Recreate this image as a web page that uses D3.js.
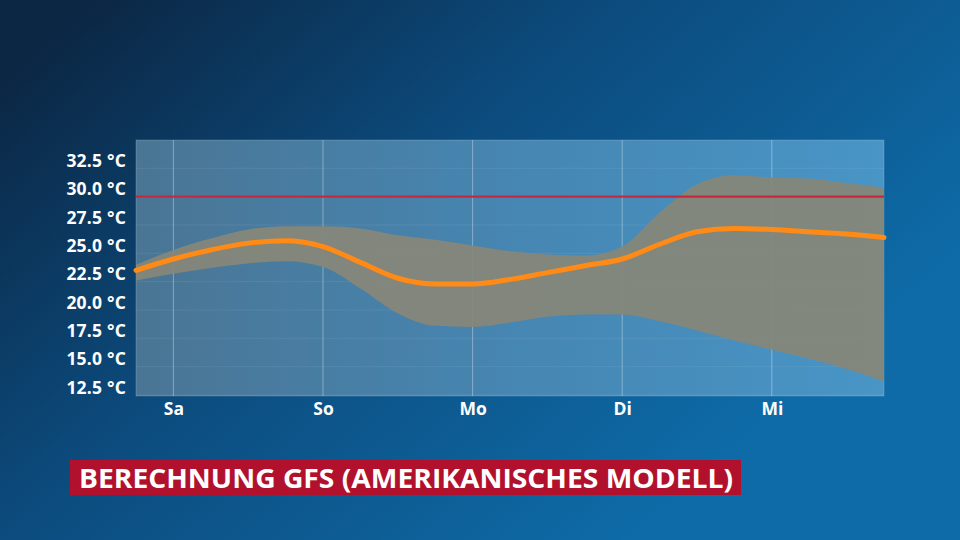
<!DOCTYPE html>
<html><head><meta charset="utf-8">
<script src="https://cdn.jsdelivr.net/npm/d3@7"></script>
<style>html,body{margin:0;padding:0;background:#0c3a63;}svg{display:block;}</style>
</head><body>
<svg id="chart" width="960" height="540"></svg>
<script>
// ---- data ----
const dayLabels = ["Sa", "So", "Mo", "Di", "Mi"];
const dayPos = [0, 1, 2, 3, 4];
const times = [-0.25, 0, 0.25, 0.5, 0.75, 1, 1.25, 1.5, 1.75, 2, 2.25, 2.5, 2.75, 3, 3.25, 3.5, 3.75, 4, 4.25, 4.5, 4.75];
const meanTemp = [23.5, 24.5, 25.3, 25.9, 26.1, 25.6, 24.2, 22.8, 22.3, 22.3, 22.7, 23.3, 23.9, 24.5, 25.8, 26.9, 27.2, 27.1, 26.9, 26.7, 26.4];
const upperTemp = [24.0, 25.3, 26.3, 27.1, 27.4, 27.4, 27.2, 26.6, 26.2, 25.7, 25.2, 24.9, 24.8, 25.6, 28.6, 31.1, 31.9, 31.7, 31.6, 31.2, 30.8];
const lowerTemp = [22.6, 23.2, 23.7, 24.1, 24.3, 23.8, 21.9, 19.7, 18.6, 18.5, 18.9, 19.4, 19.6, 19.6, 19.0, 18.2, 17.3, 16.5, 15.7, 14.8, 13.7];
const yTicks = [12.5, 15.0, 17.5, 20.0, 22.5, 25.0, 27.5, 30.0, 32.5];
const threshold = 30.0;
const title = "BERECHNUNG GFS (AMERIKANISCHES MODELL)";

// ---- layout ----
const svg = d3.select("#chart");
const W = 960, H = 540;
const plot = {x0: 136, x1: 884, y0: 140, y1: 396};

const defs = svg.append("defs");
const bg = defs.append("linearGradient").attr("id", "bg")
  .attr("x1", "0").attr("y1", "0.15").attr("x2", "0.85").attr("y2", "0.7");
bg.append("stop").attr("offset", "0").attr("stop-color", "#0b2744");
bg.append("stop").attr("offset", "0.45").attr("stop-color", "#0c4b7d");
bg.append("stop").attr("offset", "1").attr("stop-color", "#0e6ba7");
const pg = defs.append("linearGradient").attr("id", "pg")
  .attr("x1", "0").attr("y1", "0").attr("x2", "1").attr("y2", "0");
pg.append("stop").attr("offset", "0").attr("stop-color", "#4a7594");
pg.append("stop").attr("offset", "0.5").attr("stop-color", "#4686b2");
pg.append("stop").attr("offset", "1").attr("stop-color", "#4895c6");

svg.append("rect").attr("width", W).attr("height", H).attr("fill", "url(#bg)");

const x = d3.scaleLinear().domain([-0.25, 4.75]).range([plot.x0, plot.x1]);
const y = d3.scaleLinear().domain([12.5, 35]).range([395, 140]);

svg.append("rect").attr("x", plot.x0).attr("y", plot.y0)
  .attr("width", plot.x1 - plot.x0).attr("height", plot.y1 - plot.y0)
  .attr("fill", "url(#pg)").attr("stroke", "rgba(255,255,255,0.18)").attr("stroke-width", 1);

// horizontal faint grid
svg.append("g").selectAll("line").data(yTicks).join("line")
  .attr("x1", plot.x0).attr("x2", plot.x1)
  .attr("y1", d => y(d)).attr("y2", d => y(d))
  .attr("stroke", "rgba(255,255,255,0.07)").attr("stroke-width", 1);

// vertical grid
svg.append("g").selectAll("line").data(dayPos).join("line")
  .attr("x1", d => x(d)).attr("x2", d => x(d))
  .attr("y1", plot.y0).attr("y2", plot.y1)
  .attr("stroke", "rgba(255,255,255,0.35)").attr("stroke-width", 1);

const pts = times.map((t, i) => ({t, m: meanTemp[i], u: upperTemp[i], l: lowerTemp[i]}));

const area = d3.area().x(d => x(d.t)).y0(d => y(d.l)).y1(d => y(d.u)).curve(d3.curveMonotoneX);
svg.append("path").datum(pts).attr("d", area)
  .attr("fill", "#878679").attr("fill-opacity", 0.93);

// threshold line
svg.append("line").attr("x1", plot.x0).attr("x2", plot.x1)
  .attr("y1", y(threshold)).attr("y2", y(threshold))
  .attr("stroke", "#c8283e").attr("stroke-width", 2.2);

const line = d3.line().x(d => x(d.t)).y(d => y(d.m)).curve(d3.curveMonotoneX);
svg.append("path").datum(pts).attr("d", line)
  .attr("fill", "none").attr("stroke", "#ff8a16").attr("stroke-width", 5)
  .attr("stroke-linecap", "round");

// y axis labels
const yAxis = d3.axisLeft(y).tickValues(yTicks).tickSize(0).tickPadding(0)
  .tickFormat(d => d3.format(".1f")(d) + " °C");
const ya = svg.append("g").attr("transform", `translate(126,0)`).call(yAxis);
ya.select(".domain").remove();
ya.selectAll("text").attr("fill", "#ffffff").attr("dy", "-2")
  .style("font-family", "'Open Sans', sans-serif").style("font-weight", "700")
  .style("font-size", "17.5px").style("letter-spacing", "0.2px").attr("text-anchor", "end");

// x axis labels
const xAxis = d3.axisBottom(x).tickValues(dayPos).tickSize(0).tickPadding(0)
  .tickFormat((d, i) => dayLabels[i]);
const xa = svg.append("g").attr("transform", `translate(0,415)`).call(xAxis);
xa.select(".domain").remove();
xa.selectAll("text").attr("fill", "#ffffff").attr("dy", "0").attr("y", 0)
  .style("font-family", "'Open Sans', sans-serif").style("font-weight", "700")
  .style("font-size", "17.5px");

// title banner
svg.append("rect").attr("x", 70).attr("y", 460).attr("width", 671).attr("height", 35)
  .attr("fill", "#b1112c");
svg.append("text").attr("x", 79).attr("y", 488).text(title)
  .attr("fill", "#ffffff").attr("textLength", 654).attr("lengthAdjust", "spacingAndGlyphs")
  .style("font-family", "'Open Sans', sans-serif").style("font-weight", "700")
  .style("font-size", "26px");
</script>
</body></html>
